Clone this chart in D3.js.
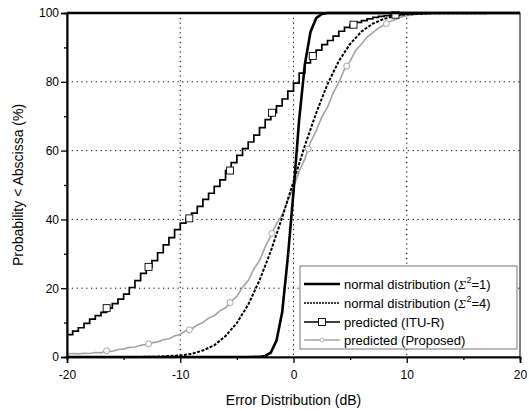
<!DOCTYPE html>
<html>
<head>
<meta charset="utf-8">
<script src="https://cdn.jsdelivr.net/npm/d3@7"></script>
<style>
  body { margin: 0; background: #fff; }
  svg { font-family: "Liberation Sans", Arial, sans-serif; }
</style>
</head>
<body>
<svg width="529" height="411"></svg>
<script>
// values
var xTicks = [-20, -10, 0, 10, 20];
var yTicks = [0, 20, 40, 60, 80, 100];

// normal distribution (sigma^2 = 1)
var normal1X = [-20, -4, -3, -2.5, -2, -1.5, -1, -0.5, 0, 0.5, 1, 1.5, 2, 2.5, 3, 20];
var normal1Y = [0, 0, 0.05, 0.3, 1.3, 4.8, 13, 29, 48, 69, 85, 94.5, 98.5, 99.7, 100, 100];

// normal distribution (sigma^2 = 4)
var normal4X = [-20, -14, -12, -10, -9, -8, -7, -6, -5, -4, -3, -2, -1, 0, 1, 2, 3, 4, 5, 6, 7, 8, 9, 10, 12, 20];
var normal4Y = [0, 0, 0.1, 0.45, 0.9, 1.9, 3.4, 6.1, 9.9, 15.2, 22.3, 30.8, 40.6, 51, 61.4, 70.9, 79.3, 86, 91, 94.6, 96.9, 98.3, 99.2, 99.6, 99.9, 100];

// predicted (ITU-R), stepped every 0.5 dB
var ituX = [-20, -20, -19.5, -19, -18.5, -18, -17.5, -17, -16.5, -16, -15.5, -15, -14.5, -14, -13.5, -13, -12.5, -12,
  -11.5, -11, -10.5, -10, -9.5, -9, -8.5, -8, -7.5, -7, -6.5, -6, -5.5, -5, -4.5, -4, -3.5, -3, -2.5, -2, -1.5, -1,
  -0.5, 0, 0.5, 1, 1.5, 2, 2.5, 3, 3.5, 4, 4.5, 5, 5.5, 6, 6.5, 7, 7.5, 8, 8.5, 9, 9.5, 10, 11, 12, 20];
var ituY = [0, 6.5, 7.5, 8.5, 9.8, 11.0, 12.0, 13.0, 14.2, 15.5, 16.8, 18.3, 20.2, 22.2, 24.3, 26.2, 28.0, 30.3,
  32.6, 34.7, 37.0, 38.9, 40.3, 41.8, 43.8, 45.8, 47.6, 49.6, 51.5, 54.2, 56.5, 58.6, 60.6, 62.5, 64.5, 66.7, 69.0, 71.0, 73.0, 75.0,
  77.3, 79.6, 82.5, 85.5, 87.5, 89.2, 90.8, 92.0, 93.3, 94.7, 95.8, 96.6, 97.3, 97.8, 98.3, 98.7, 99.0, 99.2, 99.4, 99.5, 99.7, 99.8, 99.9, 100, 100];
var ituMarkX = [-16.5, -12.8, -9.2, -5.6, -1.9, 1.7, 5.3, 9.0];

// predicted (Proposed)
var propX = [-20, -19.5, -19, -18.5, -18, -17.5, -17, -16.5, -16, -15.5, -15, -14.5, -14, -13.5, -13, -12.5, -12,
  -11.5, -11, -10.5, -10, -9.5, -9, -8.5, -8, -7.5, -7, -6.5, -6, -5.5, -5, -4.5, -4, -3.5, -3, -2.5, -2, -1.5, -1,
  -0.5, 0, 0.5, 1, 1.5, 2, 2.5, 3, 3.5, 4, 4.5, 5, 5.5, 6, 6.5, 7, 7.5, 8, 8.5, 9, 9.5, 10, 11, 12, 20];
var propY = [0.8, 1.0, 0.9, 1.1, 1.0, 1.3, 1.2, 1.8, 1.6, 2.2, 2.3, 2.8, 2.9, 3.4, 3.6, 4.1, 4.4,
  5.0, 5.3, 6.1, 6.6, 7.6, 8.1, 9.3, 10.0, 11.3, 12.0, 13.4, 14.3, 16.2, 17.6, 20.3, 22.2, 25.6, 28.0, 32.0, 35.2, 38.8, 41.3,
  45.5, 49.3, 54.0, 57.6, 62.4, 65.7, 69.8, 72.6, 76.7, 79.8, 83.6, 86.0, 89.2, 91.0, 93.0, 94.3, 95.6, 96.5, 97.5, 98.1, 98.8, 99.2, 99.7, 100, 100];
var propMarkX = [-16.5, -12.8, -9.2, -5.6, -1.9, 1.3, 4.7, 8.2];

var legendLabels = ["normal distribution", "normal distribution", "predicted (ITU-R)", "predicted (Proposed)"];

var svg = d3.select("svg");
var plotL = 67, plotR = 520, plotT = 13, plotB = 357;

var x = d3.scaleLinear().domain([-20, 20]).range([plotL, plotR]);
var y = d3.scaleLinear().domain([0, 100]).range([plotB, plotT]);

function zip(xs, ys) { return xs.map(function(v, i) { return [v, ys[i]]; }); }

// grid
var grid = svg.append("g").attr("stroke", "#000").attr("stroke-width", 1).attr("stroke-dasharray", "1.2,3.6");
grid.selectAll(".gy").data([20, 40, 60, 80]).enter().append("line")
    .attr("x1", plotL).attr("x2", plotR).attr("y1", y).attr("y2", y);
grid.selectAll(".gx").data([-10, 0, 10]).enter().append("line")
    .attr("y1", plotT).attr("y2", plotB).attr("x1", x).attr("x2", x);

svg.append("clipPath").attr("id", "plot").append("rect")
    .attr("x", plotL).attr("y", plotT - 2).attr("width", plotR - plotL).attr("height", plotB - plotT + 2);

var plot = svg.append("g").attr("clip-path", "url(#plot)");

var line = d3.line().x(function(d) { return x(d[0]); }).y(function(d) { return y(d[1]); });
var stepLine = d3.line().curve(d3.curveStepAfter).x(function(d) { return x(d[0]); }).y(function(d) { return y(d[1]); });

var propData = zip(propX, propY);
var ituData = zip(ituX, ituY);

plot.append("path").datum(propData).attr("d", line)
    .attr("fill", "none").attr("stroke", "#a3a3a3").attr("stroke-width", 1.6);
plot.append("path").datum(zip(normal4X, normal4Y)).attr("d", line)
    .attr("fill", "none").attr("stroke", "#000").attr("stroke-width", 2).attr("stroke-dasharray", "3,1.5");
plot.append("path").datum(ituData).attr("d", stepLine)
    .attr("fill", "none").attr("stroke", "#000").attr("stroke-width", 1.7);
plot.append("path").datum(zip(normal1X, normal1Y)).attr("d", line)
    .attr("fill", "none").attr("stroke", "#000").attr("stroke-width", 2.6);

// markers
var bis = d3.bisector(function(d) { return d[0]; }).right;
function stepValue(data, v) { return data[Math.max(0, bis(data, v) - 1)][1]; }
function lerpValue(data, v) {
  var i = bis(data, v), a = data[i - 1], b = data[i];
  return a[1] + (b[1] - a[1]) * (v - a[0]) / (b[0] - a[0]);
}
plot.selectAll(".sq").data(ituMarkX).enter().append("rect")
    .attr("x", function(d) { return x(d) - 3.5; })
    .attr("y", function(d) { return y(stepValue(ituData, d)) - 3.5; })
    .attr("width", 7).attr("height", 7)
    .attr("fill", "#fff").attr("stroke", "#000").attr("stroke-width", 0.9);
plot.selectAll(".ci").data(propMarkX).enter().append("circle")
    .attr("cx", x)
    .attr("cy", function(d) { return y(lerpValue(propData, d)); })
    .attr("r", 3).attr("fill", "#fff").attr("stroke", "#a3a3a3").attr("stroke-width", 1);

// frame
svg.append("rect").attr("x", plotL).attr("y", plotT).attr("width", plotR - plotL).attr("height", plotB - plotT)
    .attr("fill", "none").attr("stroke", "#000").attr("stroke-width", 1);
svg.append("line").attr("x1", plotL).attr("x2", plotR).attr("y1", plotT).attr("y2", plotT)
    .attr("stroke", "#000").attr("stroke-width", 2.5);

// axes
var fmt = function(d) { return String(d); };
var xAxis = svg.append("g").attr("transform", "translate(0," + plotB + ")")
    .call(d3.axisBottom(x).tickValues(xTicks).tickSize(6).tickFormat(fmt));
var xMinor = svg.append("g").attr("transform", "translate(0," + plotB + ")")
    .call(d3.axisBottom(x).tickValues([-15, -5, 5, 15]).tickSize(3).tickFormat(""));
var yAxis = svg.append("g").attr("transform", "translate(" + plotL + ",0)")
    .call(d3.axisLeft(y).tickValues(yTicks).tickSize(6).tickFormat(fmt));
var yMinor = svg.append("g").attr("transform", "translate(" + plotL + ",0)")
    .call(d3.axisLeft(y).tickValues([10, 30, 50, 70, 90]).tickSize(3).tickFormat(""));

[xAxis, xMinor, yAxis, yMinor].forEach(function(a) {
  a.select(".domain").attr("stroke-width", 1.6);
  a.selectAll(".tick line").attr("stroke-width", 1.3);
  a.selectAll("text").attr("font-family", "Liberation Sans, Arial, sans-serif").attr("font-size", 12).attr("fill", "#000");
});
xAxis.selectAll("text").attr("dy", "1.1em");
yAxis.selectAll("text").attr("x", -8);

svg.append("text").attr("x", (plotL + plotR) / 2).attr("y", 405).attr("text-anchor", "middle")
    .attr("font-size", 14).text("Error Distribution (dB)");
svg.append("text").attr("transform", "translate(23," + (plotT + plotB) / 2 + ") rotate(-90)")
    .attr("text-anchor", "middle").attr("font-size", 14).text("Probability < Abscissa (%)");

// legend
var lg = svg.append("g");
lg.append("rect").attr("x", 300).attr("y", 266).attr("width", 217).attr("height", 83)
    .attr("fill", "#fff").attr("stroke", "#777").attr("stroke-width", 1);
var rowY = [284, 303, 322, 340];
var styles = [
  {stroke: "#000", width: 2.4, dash: null},
  {stroke: "#000", width: 1.6, dash: "2,1"},
  {stroke: "#000", width: 1.6, dash: null},
  {stroke: "#a3a3a3", width: 1.4, dash: null}
];
legendLabels.forEach(function(label, i) {
  lg.append("line").attr("x1", 304).attr("x2", 340).attr("y1", rowY[i]).attr("y2", rowY[i])
      .attr("stroke", styles[i].stroke).attr("stroke-width", styles[i].width)
      .attr("stroke-dasharray", styles[i].dash);
  var t = lg.append("text").attr("x", 344).attr("y", rowY[i] + 5).attr("font-size", 13).text(label);
  if (i < 2) {
    t.append("tspan").text(" (");
    t.append("tspan").attr("font-family", "Liberation Serif, serif").attr("font-style", "italic").text("Σ");
    t.append("tspan").attr("font-size", 9).attr("dy", -6).attr("dx", 0.5).text("2");
    t.append("tspan").attr("dy", 6).text(i === 0 ? "=1)" : "=4)");
  }
});
lg.append("rect").attr("x", 318.5).attr("y", rowY[2] - 3.5).attr("width", 7).attr("height", 7)
    .attr("fill", "#fff").attr("stroke", "#000").attr("stroke-width", 0.9);
lg.append("circle").attr("cx", 322).attr("cy", rowY[3]).attr("r", 2)
    .attr("fill", "#fff").attr("stroke", "#a3a3a3").attr("stroke-width", 0.8);
</script>
</body>
</html>
